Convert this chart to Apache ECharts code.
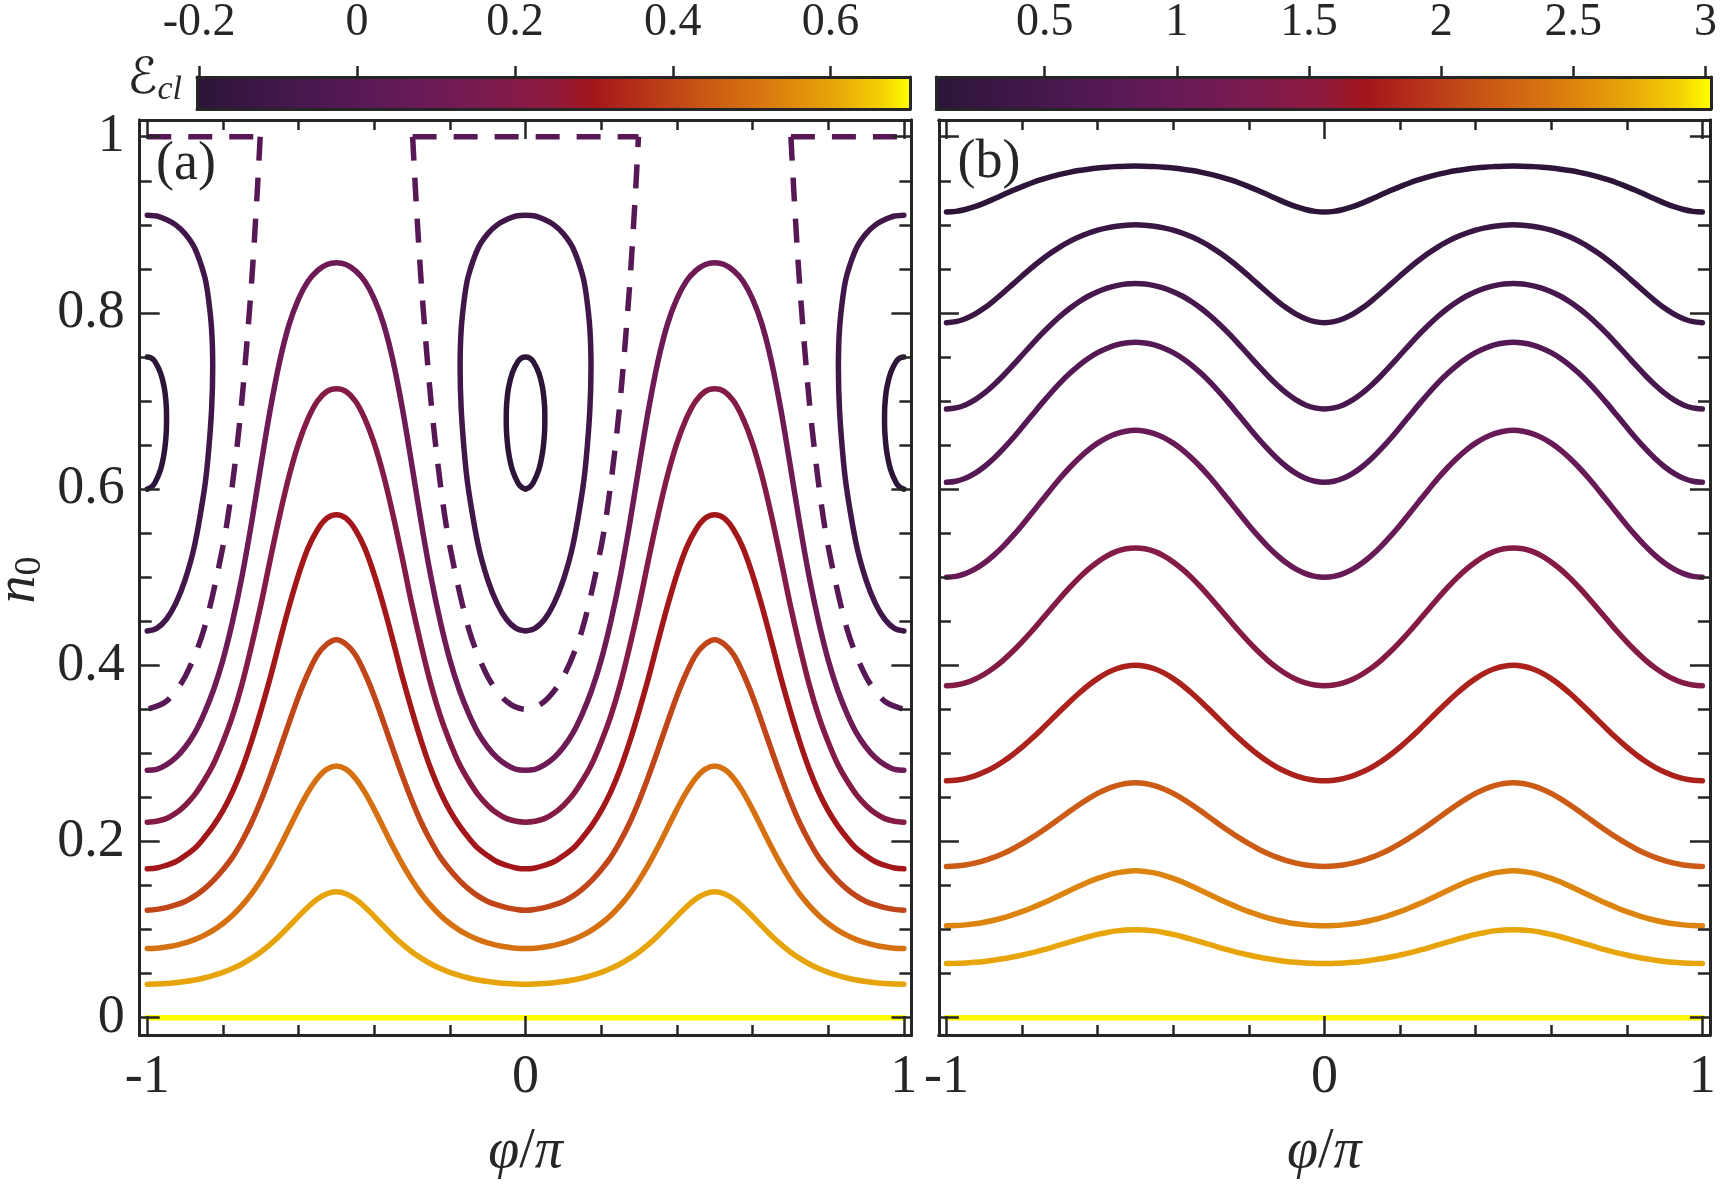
<!DOCTYPE html>
<html><head><meta charset="utf-8">
<script src="https://cdn.jsdelivr.net/npm/echarts@6/dist/echarts.min.js"></script>
<style>html,body{margin:0;padding:0;background:#fff}#c{width:1720px;height:1186px}</style>
</head><body><div id="c"></div>
<script>
// ---------------- data ----------------
// common phi/pi sampling grid for the open contour lines
const phiGrid = [-1,-0.975,-0.95,-0.925,-0.9,-0.875,-0.85,-0.825,-0.8,-0.775,-0.75,-0.725,-0.7,-0.675,-0.65,-0.625,-0.6,-0.575,-0.55,-0.525,-0.5,-0.475,-0.45,-0.425,-0.4,-0.375,-0.35,-0.325,-0.3,-0.275,-0.25,-0.225,-0.2,-0.175,-0.15,-0.125,-0.1,-0.075,-0.05,-0.025,0,0.025,0.05,0.075,0.1,0.125,0.15,0.175,0.2,0.225,0.25,0.275,0.3,0.325,0.35,0.375,0.4,0.425,0.45,0.475,0.5,0.525,0.55,0.575,0.6,0.625,0.65,0.675,0.7,0.725,0.75,0.775,0.8,0.825,0.85,0.875,0.9,0.925,0.95,0.975,1];

// panel (a): contour levels and n0 values along phiGrid
const levelsA = [0.7, 0.6, 0.5, 0.4, 0.3, 0.2, 0.1, 0.0, -0.1, -0.2];
const a_E06 = [0.0381,0.0383,0.0388,0.0398,0.0411,0.0429,0.0451,0.0480,0.0515,0.0558,0.0610,0.0673,0.0747,0.0833,0.0931,0.1039,0.1151,0.1257,0.1347,0.1407,0.1429, 0.1407,0.1347,0.1257,0.1151,0.1039,0.0931,0.0833,0.0747,0.0673,0.0610,0.0558,0.0515,0.0480,0.0451,0.0429,0.0411,0.0398,0.0388,0.0383,0.0381, 0.0383,0.0388,0.0398,0.0411,0.0429,0.0451,0.0480,0.0515,0.0558,0.0610,0.0673,0.0747,0.0833,0.0931,0.1039,0.1151,0.1257,0.1347,0.1407,0.1429, 0.1407,0.1347,0.1257,0.1151,0.1039,0.0931,0.0833,0.0747,0.0673,0.0610,0.0558,0.0515,0.0480,0.0451,0.0429,0.0411,0.0398,0.0388,0.0383,0.0381];
const a_E05 = [0.0787,0.0790,0.0802,0.0821,0.0849,0.0887,0.0935,0.0995,0.1070,0.1161,0.1272,0.1403,0.1559,0.1737,0.1937,0.2151,0.2365,0.2561,0.2719,0.2822,0.2857, 0.2822,0.2719,0.2561,0.2365,0.2151,0.1937,0.1737,0.1559,0.1403,0.1272,0.1161,0.1070,0.0995,0.0935,0.0887,0.0849,0.0821,0.0802,0.0790,0.0787, 0.0790,0.0802,0.0821,0.0849,0.0887,0.0935,0.0995,0.1070,0.1161,0.1272,0.1403,0.1559,0.1737,0.1937,0.2151,0.2365,0.2561,0.2719,0.2822,0.2857, 0.2822,0.2719,0.2561,0.2365,0.2151,0.1937,0.1737,0.1559,0.1403,0.1272,0.1161,0.1070,0.0995,0.0935,0.0887,0.0849,0.0821,0.0802,0.0790,0.0787];
const a_E04 = [0.122,0.123,0.125,0.128,0.132,0.138,0.146,0.156,0.168,0.182,0.200,0.221,0.246,0.274,0.304,0.335,0.365,0.391,0.412,0.424,0.429, 0.424,0.412,0.391,0.365,0.335,0.304,0.274,0.246,0.221,0.200,0.182,0.168,0.156,0.146,0.138,0.132,0.128,0.125,0.123,0.122, 0.123,0.125,0.128,0.132,0.138,0.146,0.156,0.168,0.182,0.200,0.221,0.246,0.274,0.304,0.335,0.365,0.391,0.412,0.424,0.429, 0.424,0.412,0.391,0.365,0.335,0.304,0.274,0.246,0.221,0.200,0.182,0.168,0.156,0.146,0.138,0.132,0.128,0.125,0.123,0.122];
const a_E03 = [0.169,0.170,0.173,0.177,0.184,0.192,0.204,0.218,0.235,0.256,0.282,0.313,0.348,0.386,0.427,0.467,0.503,0.533,0.554,0.567,0.571, 0.567,0.554,0.533,0.503,0.467,0.427,0.386,0.348,0.313,0.282,0.256,0.235,0.218,0.204,0.192,0.184,0.177,0.173,0.170,0.169, 0.170,0.173,0.177,0.184,0.192,0.204,0.218,0.235,0.256,0.282,0.313,0.348,0.386,0.427,0.467,0.503,0.533,0.554,0.567,0.571, 0.567,0.554,0.533,0.503,0.467,0.427,0.386,0.348,0.313,0.282,0.256,0.235,0.218,0.204,0.192,0.184,0.177,0.173,0.170,0.169];
const a_E02 = [0.222,0.223,0.226,0.232,0.241,0.253,0.269,0.288,0.313,0.342,0.378,0.421,0.468,0.520,0.570,0.615,0.652,0.680,0.700,0.711,0.714, 0.711,0.700,0.680,0.652,0.615,0.570,0.520,0.468,0.421,0.378,0.342,0.313,0.288,0.269,0.253,0.241,0.232,0.226,0.223,0.222, 0.223,0.226,0.232,0.241,0.253,0.269,0.288,0.313,0.342,0.378,0.421,0.468,0.520,0.570,0.615,0.652,0.680,0.700,0.711,0.714, 0.711,0.700,0.680,0.652,0.615,0.570,0.520,0.468,0.421,0.378,0.342,0.313,0.288,0.269,0.253,0.241,0.232,0.226,0.223,0.222];
const a_E01 = [0.281,0.282,0.287,0.295,0.307,0.323,0.345,0.372,0.406,0.449,0.500,0.560,0.626,0.690,0.745,0.787,0.816,0.836,0.848,0.855,0.857, 0.855,0.848,0.836,0.816,0.787,0.745,0.690,0.626,0.560,0.500,0.449,0.406,0.372,0.345,0.323,0.307,0.295,0.287,0.282,0.281, 0.282,0.287,0.295,0.307,0.323,0.345,0.372,0.406,0.449,0.500,0.560,0.626,0.690,0.745,0.787,0.816,0.836,0.848,0.855,0.857, 0.855,0.848,0.836,0.816,0.787,0.745,0.690,0.626,0.560,0.500,0.449,0.406,0.372,0.345,0.323,0.307,0.295,0.287,0.282,0.281];
const a_E07 = [[-1,0],[1,0]];
// separatrix (dashed, level 0)
const a_E00_mid = [[-0.2985,1],[-0.29,0.932],[-0.275,0.830],[-0.25,0.700],[-0.225,0.605],[-0.2,0.535],[-0.15,0.441],[-0.1,0.387],[-0.05,0.359],[0,0.350],[0.05,0.359],[0.1,0.387],[0.15,0.441],[0.2,0.535],[0.225,0.605],[0.25,0.700],[0.275,0.830],[0.29,0.932],[0.2985,1]];
const a_E00_left = [[-0.7015,1],[-0.71,0.932],[-0.725,0.830],[-0.75,0.700],[-0.775,0.605],[-0.8,0.535],[-0.85,0.441],[-0.9,0.387],[-0.95,0.359],[-1,0.350]];
const a_E00_right = [[0.7015,1],[0.71,0.932],[0.725,0.830],[0.75,0.700],[0.775,0.605],[0.8,0.535],[0.85,0.441],[0.9,0.387],[0.95,0.359],[1,0.350]];
const a_E00_topL = [[-1,1],[-0.7015,1]];
const a_E00_topM = [[-0.2985,1],[0.2985,1]];
const a_E00_topR = [[0.7015,1],[1,1]];
// closed orbits, level -0.1
const a_Em01_mid = [[0,0.439],[0.025,0.442],[0.05,0.452],[0.075,0.470],[0.1,0.497],[0.125,0.536],[0.15,0.597],[0.16,0.633],[0.17,0.690],[0.173,0.739],[0.17,0.782],[0.16,0.822],[0.15,0.844],[0.125,0.874],[0.1,0.890],[0.075,0.900],[0.05,0.906],[0.025,0.910],[0,0.911],[-0.025,0.910],[-0.05,0.906],[-0.075,0.900],[-0.1,0.890],[-0.125,0.874],[-0.15,0.844],[-0.16,0.822],[-0.17,0.782],[-0.173,0.739],[-0.17,0.690],[-0.16,0.633],[-0.15,0.597],[-0.125,0.536],[-0.1,0.497],[-0.075,0.470],[-0.05,0.452],[-0.025,0.442],[0,0.439]];
const a_Em01_left = [[-1,0.439],[-0.975,0.442],[-0.95,0.452],[-0.925,0.470],[-0.9,0.497],[-0.875,0.536],[-0.85,0.597],[-0.84,0.633],[-0.83,0.690],[-0.827,0.739],[-0.83,0.782],[-0.84,0.822],[-0.85,0.844],[-0.875,0.874],[-0.9,0.890],[-0.925,0.900],[-0.95,0.906],[-0.975,0.910],[-1,0.911]];
const a_Em01_right = [[1,0.439],[0.975,0.442],[0.95,0.452],[0.925,0.470],[0.9,0.497],[0.875,0.536],[0.85,0.597],[0.84,0.633],[0.83,0.690],[0.827,0.739],[0.83,0.782],[0.84,0.822],[0.85,0.844],[0.875,0.874],[0.9,0.890],[0.925,0.900],[0.95,0.906],[0.975,0.910],[1,0.911]];
// closed orbits, level -0.2
const a_Em02_mid = [[0,0.600],[0.01,0.602],[0.02,0.607],[0.035,0.622],[0.045,0.642],[0.05,0.663],[0.051,0.680],[0.05,0.696],[0.045,0.715],[0.035,0.732],[0.02,0.745],[0.01,0.749],[0,0.750],[-0.01,0.749],[-0.02,0.745],[-0.035,0.732],[-0.045,0.715],[-0.05,0.696],[-0.051,0.680],[-0.05,0.663],[-0.045,0.642],[-0.035,0.622],[-0.02,0.607],[-0.01,0.602],[0,0.600]];
const a_Em02_left = [[-1,0.600],[-0.99,0.602],[-0.98,0.607],[-0.965,0.622],[-0.955,0.642],[-0.95,0.663],[-0.949,0.680],[-0.95,0.696],[-0.955,0.715],[-0.965,0.732],[-0.98,0.745],[-0.99,0.749],[-1,0.750]];
const a_Em02_right = [[1,0.600],[0.99,0.602],[0.98,0.607],[0.965,0.622],[0.955,0.642],[0.95,0.663],[0.949,0.680],[0.95,0.696],[0.955,0.715],[0.965,0.732],[0.98,0.745],[0.99,0.749],[1,0.750]];

// panel (b): contour levels and n0 values along phiGrid
const levelsB = [3.0, 2.7, 2.5, 2.2, 1.8, 1.4, 1.0, 0.7, 0.5, 0.3, 0.1];
const b_E30 = [[-1,0],[1,0]];
const b_E27 = [0.0615,0.0617,0.0621,0.0629,0.0639,0.0653,0.0669,0.0689,0.0712,0.0737,0.0765,0.0794,0.0826,0.0857,0.0889,0.0919,0.0946,0.0968,0.0986,0.0996,0.1000, 0.0996,0.0986,0.0968,0.0946,0.0919,0.0889,0.0857,0.0826,0.0794,0.0765,0.0737,0.0712,0.0689,0.0669,0.0653,0.0639,0.0629,0.0621,0.0617,0.0615, 0.0617,0.0621,0.0629,0.0639,0.0653,0.0669,0.0689,0.0712,0.0737,0.0765,0.0794,0.0826,0.0857,0.0889,0.0919,0.0946,0.0968,0.0986,0.0996,0.1000, 0.0996,0.0986,0.0968,0.0946,0.0919,0.0889,0.0857,0.0826,0.0794,0.0765,0.0737,0.0712,0.0689,0.0669,0.0653,0.0639,0.0629,0.0621,0.0617,0.0615];
const b_E25 = [0.1044,0.1046,0.1054,0.1066,0.1084,0.1107,0.1134,0.1167,0.1204,0.1246,0.1292,0.1340,0.1391,0.1442,0.1492,0.1540,0.1582,0.1617,0.1644,0.1661,0.1667, 0.1661,0.1644,0.1617,0.1582,0.1540,0.1492,0.1442,0.1391,0.1340,0.1292,0.1246,0.1204,0.1167,0.1134,0.1107,0.1084,0.1066,0.1054,0.1046,0.1044, 0.1046,0.1054,0.1066,0.1084,0.1107,0.1134,0.1167,0.1204,0.1246,0.1292,0.1340,0.1391,0.1442,0.1492,0.1540,0.1582,0.1617,0.1644,0.1661,0.1667, 0.1661,0.1644,0.1617,0.1582,0.1540,0.1492,0.1442,0.1391,0.1340,0.1292,0.1246,0.1204,0.1167,0.1134,0.1107,0.1084,0.1066,0.1054,0.1046,0.1044];
const b_E22 = [0.1718,0.1722,0.1734,0.1755,0.1783,0.1820,0.1864,0.1916,0.1975,0.2041,0.2112,0.2186,0.2263,0.2340,0.2415,0.2484,0.2546,0.2597,0.2635,0.2659,0.2667, 0.2659,0.2635,0.2597,0.2546,0.2484,0.2415,0.2340,0.2263,0.2186,0.2112,0.2041,0.1975,0.1916,0.1864,0.1820,0.1783,0.1755,0.1734,0.1722,0.1718, 0.1722,0.1734,0.1755,0.1783,0.1820,0.1864,0.1916,0.1975,0.2041,0.2112,0.2186,0.2263,0.2340,0.2415,0.2484,0.2546,0.2597,0.2635,0.2659,0.2667, 0.2659,0.2635,0.2597,0.2546,0.2484,0.2415,0.2340,0.2263,0.2186,0.2112,0.2041,0.1975,0.1916,0.1864,0.1820,0.1783,0.1755,0.1734,0.1722,0.1718];
const b_E18 = [0.2689,0.2696,0.2714,0.2745,0.2788,0.2842,0.2908,0.2985,0.3071,0.3166,0.3267,0.3372,0.3478,0.3582,0.3680,0.3771,0.3849,0.3914,0.3961,0.3990,0.4000, 0.3990,0.3961,0.3914,0.3849,0.3771,0.3680,0.3582,0.3478,0.3372,0.3267,0.3166,0.3071,0.2985,0.2908,0.2842,0.2788,0.2745,0.2714,0.2696,0.2689, 0.2696,0.2714,0.2745,0.2788,0.2842,0.2908,0.2985,0.3071,0.3166,0.3267,0.3372,0.3478,0.3582,0.3680,0.3771,0.3849,0.3914,0.3961,0.3990,0.4000, 0.3990,0.3961,0.3914,0.3849,0.3771,0.3680,0.3582,0.3478,0.3372,0.3267,0.3166,0.3071,0.2985,0.2908,0.2842,0.2788,0.2745,0.2714,0.2696,0.2689];
const b_E14 = [0.3768,0.3776,0.3801,0.3842,0.3899,0.3971,0.4057,0.4156,0.4266,0.4384,0.4508,0.4634,0.4759,0.4879,0.4990,0.5089,0.5174,0.5243,0.5293,0.5323,0.5333, 0.5323,0.5293,0.5243,0.5174,0.5089,0.4990,0.4879,0.4759,0.4634,0.4508,0.4384,0.4266,0.4156,0.4057,0.3971,0.3899,0.3842,0.3801,0.3776,0.3768, 0.3776,0.3801,0.3842,0.3899,0.3971,0.4057,0.4156,0.4266,0.4384,0.4508,0.4634,0.4759,0.4879,0.4990,0.5089,0.5174,0.5243,0.5293,0.5323,0.5333, 0.5323,0.5293,0.5243,0.5174,0.5089,0.4990,0.4879,0.4759,0.4634,0.4508,0.4384,0.4266,0.4156,0.4057,0.3971,0.3899,0.3842,0.3801,0.3776,0.3768];
const b_E10 = [0.5000,0.5010,0.5041,0.5091,0.5161,0.5248,0.5350,0.5466,0.5591,0.5723,0.5858,0.5991,0.6120,0.6240,0.6348,0.6443,0.6522,0.6585,0.6630,0.6658,0.6667, 0.6658,0.6630,0.6585,0.6522,0.6443,0.6348,0.6240,0.6120,0.5991,0.5858,0.5723,0.5591,0.5466,0.5350,0.5248,0.5161,0.5091,0.5041,0.5010,0.5000, 0.5010,0.5041,0.5091,0.5161,0.5248,0.5350,0.5466,0.5591,0.5723,0.5858,0.5991,0.6120,0.6240,0.6348,0.6443,0.6522,0.6585,0.6630,0.6658,0.6667, 0.6658,0.6630,0.6585,0.6522,0.6443,0.6348,0.6240,0.6120,0.5991,0.5858,0.5723,0.5591,0.5466,0.5350,0.5248,0.5161,0.5091,0.5041,0.5010,0.5000];
const b_E07 = [0.6077,0.6089,0.6123,0.6178,0.6254,0.6347,0.6456,0.6575,0.6702,0.6832,0.6962,0.7086,0.7203,0.7309,0.7403,0.7483,0.7549,0.7600,0.7637,0.7659,0.7667, 0.7659,0.7637,0.7600,0.7549,0.7483,0.7403,0.7309,0.7203,0.7086,0.6962,0.6832,0.6702,0.6575,0.6456,0.6347,0.6254,0.6178,0.6123,0.6089,0.6077, 0.6089,0.6123,0.6178,0.6254,0.6347,0.6456,0.6575,0.6702,0.6832,0.6962,0.7086,0.7203,0.7309,0.7403,0.7483,0.7549,0.7600,0.7637,0.7659,0.7667, 0.7659,0.7637,0.7600,0.7549,0.7483,0.7403,0.7309,0.7203,0.7086,0.6962,0.6832,0.6702,0.6575,0.6456,0.6347,0.6254,0.6178,0.6123,0.6089,0.6077];
const b_E05 = [0.6910,0.6922,0.6956,0.7013,0.7089,0.7182,0.7287,0.7401,0.7520,0.7638,0.7753,0.7860,0.7959,0.8047,0.8124,0.8189,0.8241,0.8282,0.8310,0.8328,0.8333, 0.8328,0.8310,0.8282,0.8241,0.8189,0.8124,0.8047,0.7959,0.7860,0.7753,0.7638,0.7520,0.7401,0.7287,0.7182,0.7089,0.7013,0.6956,0.6922,0.6910, 0.6922,0.6956,0.7013,0.7089,0.7182,0.7287,0.7401,0.7520,0.7638,0.7753,0.7860,0.7959,0.8047,0.8124,0.8189,0.8241,0.8282,0.8310,0.8328,0.8333, 0.8328,0.8310,0.8282,0.8241,0.8189,0.8124,0.8047,0.7959,0.7860,0.7753,0.7638,0.7520,0.7401,0.7287,0.7182,0.7089,0.7013,0.6956,0.6922,0.6910];
const b_E03 = [0.7890,0.7901,0.7934,0.7986,0.8055,0.8138,0.8229,0.8324,0.8419,0.8512,0.8598,0.8677,0.8748,0.8809,0.8861,0.8905,0.8940,0.8966,0.8985,0.8996,0.9000, 0.8996,0.8985,0.8966,0.8940,0.8905,0.8861,0.8809,0.8748,0.8677,0.8598,0.8512,0.8419,0.8324,0.8229,0.8138,0.8055,0.7986,0.7934,0.7901,0.7890, 0.7901,0.7934,0.7986,0.8055,0.8138,0.8229,0.8324,0.8419,0.8512,0.8598,0.8677,0.8748,0.8809,0.8861,0.8905,0.8940,0.8966,0.8985,0.8996,0.9000, 0.8996,0.8985,0.8966,0.8940,0.8905,0.8861,0.8809,0.8748,0.8677,0.8598,0.8512,0.8419,0.8324,0.8229,0.8138,0.8055,0.7986,0.7934,0.7901,0.7890];
const b_E01 = [0.9146,0.9153,0.9174,0.9206,0.9247,0.9293,0.9341,0.9389,0.9433,0.9475,0.9512,0.9544,0.9572,0.9596,0.9616,0.9632,0.9645,0.9655,0.9661,0.9665,0.9667, 0.9665,0.9661,0.9655,0.9645,0.9632,0.9616,0.9596,0.9572,0.9544,0.9512,0.9475,0.9433,0.9389,0.9341,0.9293,0.9247,0.9206,0.9174,0.9153,0.9146, 0.9153,0.9174,0.9206,0.9247,0.9293,0.9341,0.9389,0.9433,0.9475,0.9512,0.9544,0.9572,0.9596,0.9616,0.9632,0.9645,0.9655,0.9661,0.9665,0.9667, 0.9665,0.9661,0.9655,0.9645,0.9632,0.9616,0.9596,0.9572,0.9544,0.9512,0.9475,0.9433,0.9389,0.9341,0.9293,0.9247,0.9206,0.9174,0.9153,0.9146];

// axes / ticks / colorbars
const xMajor = [-1, 0, 1];
const xMinor = [-0.8,-0.6,-0.4,-0.2,0.2,0.4,0.6,0.8];
const yMajor = [0, 0.2, 0.4, 0.6, 0.8, 1];
const yMinor = [0.05,0.1,0.15,0.25,0.3,0.35,0.45,0.5,0.55,0.65,0.7,0.75,0.85,0.9,0.95];
const xRange = [-1.02, 1.02];
const yRange = [-0.0196, 1.019];
const cbRangeA = [-0.2028, 0.7006];
const cbTicksA = [-0.2, 0, 0.2, 0.4, 0.6];
const cbRangeB = [0.09, 3.02];
const cbTicksB = [0.5, 1, 1.5, 2, 2.5, 3];

// ---------------- style ----------------
const FRAME = '#262626';
const FONT = '"Liberation Serif", "DejaVu Serif", serif';
const CMAP = [[0,'#2b1537'],[0.1,'#3e1748'],[0.2,'#521955'],[0.3,'#661a57'],[0.4,'#7a1b50'],[0.5,'#8f1a3d'],[0.555,'#a3161b'],[0.62,'#b5301a'],[0.7,'#c75316'],[0.8,'#d9790f'],[0.9,'#e9a909'],[0.96,'#f4d104'],[1,'#ffff00']];
function h2r(h){return [1,3,5].map(i=>parseInt(h.substr(i,2),16));}
function cmap(t){
  t = Math.max(0, Math.min(1, t));
  for (let i = 1; i < CMAP.length; i++) {
    if (t <= CMAP[i][0]) {
      const t0 = CMAP[i-1][0], t1 = CMAP[i][0];
      const f = (t - t0) / (t1 - t0);
      const a = h2r(CMAP[i-1][1]), b = h2r(CMAP[i][1]);
      const c = a.map((v,k)=>Math.round(v + (b[k]-v)*f));
      return 'rgb(' + c.join(',') + ')';
    }
  }
  return CMAP[CMAP.length-1][1];
}
const colA = E => cmap((E - cbRangeA[0]) / (cbRangeA[1] - cbRangeA[0]));
const colB = E => cmap((E - cbRangeB[0]) / (cbRangeB[1] - cbRangeB[0]));

function onGrid(ys){ return phiGrid.map((x,i)=>[x, ys[i]]); }

function line(axis, data, color, opt) {
  opt = opt || {};
  return {
    type: 'line', xAxisIndex: axis, yAxisIndex: axis, data: data,
    showSymbol: false, symbol: 'none', silent: true, animation: false,
    smooth: opt.smooth === undefined ? 0.35 : opt.smooth,
    lineStyle: { color: color, width: 5.5, type: opt.dash ? [24, 17] : 'solid', cap: opt.dash ? 'butt' : 'round', join: 'round' },
    z: 3
  };
}

function panelAxes(g, withYLabels) {
  const baseLine = { show: true, onZero: false, lineStyle: { color: FRAME, width: 3 } };
  const lab = { color: FRAME, fontFamily: FONT, fontSize: 54 };
  const tk = (vals, len) => ({ show: true, inside: true, length: len, customValues: vals, lineStyle: { color: FRAME, width: 2.5 } });
  const common = { type: 'value', gridIndex: g, splitLine: { show: false }, z: 10, axisLine: baseLine, axisPointer: { show: false } };
  const xs = [
    Object.assign({}, common, { position: 'bottom', min: xRange[0], max: xRange[1], axisTick: tk(xMajor, 19), axisLabel: Object.assign({ show: true, customValues: xMajor, margin: 16 }, lab) }),
    Object.assign({}, common, { position: 'bottom', min: xRange[0], max: xRange[1], axisTick: tk(xMinor, 10), axisLabel: { show: false } }),
    Object.assign({}, common, { position: 'top', min: xRange[0], max: xRange[1], axisTick: tk(xMajor, 19), axisLabel: { show: false } }),
    Object.assign({}, common, { position: 'top', min: xRange[0], max: xRange[1], axisTick: tk(xMinor, 10), axisLabel: { show: false } })
  ];
  const ys = [
    Object.assign({}, common, { position: 'left', min: yRange[0], max: yRange[1], axisTick: tk(yMajor, 20), axisLabel: withYLabels ? Object.assign({ show: true, customValues: yMajor, margin: 15 }, lab) : { show: false } }),
    Object.assign({}, common, { position: 'left', min: yRange[0], max: yRange[1], axisTick: tk(yMinor, 12), axisLabel: { show: false } }),
    Object.assign({}, common, { position: 'right', min: yRange[0], max: yRange[1], axisTick: tk(yMajor, 20), axisLabel: { show: false } }),
    Object.assign({}, common, { position: 'right', min: yRange[0], max: yRange[1], axisTick: tk(yMinor, 12), axisLabel: { show: false } })
  ];
  return { xs, ys };
}

function cbAxes(g, range, ticks) {
  const baseLine = { show: true, onZero: false, lineStyle: { color: FRAME, width: 3 } };
  const common = { type: 'value', gridIndex: g, splitLine: { show: false }, z: 10, axisLine: baseLine, axisPointer: { show: false } };
  const xs = [
    Object.assign({}, common, { position: 'top', min: range[0], max: range[1],
      axisTick: { show: true, inside: false, length: 11, customValues: ticks, lineStyle: { color: FRAME, width: 2.5 } },
      axisLabel: { show: true, customValues: ticks, margin: 31, color: FRAME, fontFamily: FONT, fontSize: 46 } }),
    Object.assign({}, common, { position: 'bottom', min: range[0], max: range[1], axisTick: { show: false }, axisLabel: { show: false } })
  ];
  const ys = [
    Object.assign({}, common, { position: 'left', min: 0, max: 1, axisTick: { show: false }, axisLabel: { show: false } }),
    Object.assign({}, common, { position: 'right', min: 0, max: 1, axisTick: { show: false }, axisLabel: { show: false } })
  ];
  return { xs, ys };
}

function cbSeries(axis, range) {
  return {
    type: 'custom', xAxisIndex: axis, yAxisIndex: axis, silent: true, animation: false, z: 2,
    data: [[range[0], range[1]]],
    renderItem: function (params, api) {
      const p0 = api.coord([api.value(0), 0]);
      const p1 = api.coord([api.value(1), 1]);
      return {
        type: 'rect',
        shape: { x: p0[0], y: p1[1], width: p1[0] - p0[0], height: p0[1] - p1[1] },
        style: { fill: new echarts.graphic.LinearGradient(0, 0, 1, 0, CMAP.map(s => ({ offset: s[0], color: s[1] }))) }
      };
    }
  };
}

const pA = panelAxes(0, true), pB = panelAxes(1, false);
const cA = cbAxes(2, cbRangeA, cbTicksA), cB = cbAxes(3, cbRangeB, cbTicksB);
// axis index layout: panel A 0-3, panel B 4-7, colorbar A 8-9, colorbar B 10-11
const xAxes = [].concat(pA.xs, pB.xs, cA.xs, cB.xs);
const yAxes = [].concat(pA.ys, pB.ys, cA.ys, cB.ys);

const series = [];
// panel (a)
series.push(line(0, a_E07, colA(0.7), { smooth: false }));
series.push(line(0, onGrid(a_E06), colA(0.6)));
series.push(line(0, onGrid(a_E05), colA(0.5)));
series.push(line(0, onGrid(a_E04), colA(0.4)));
series.push(line(0, onGrid(a_E03), colA(0.3)));
series.push(line(0, onGrid(a_E02), colA(0.2)));
series.push(line(0, onGrid(a_E01), colA(0.1)));
[a_E00_mid, a_E00_left, a_E00_right].forEach(d => series.push(line(0, d, colA(0.0), { dash: true, smooth: 0.3 })));
[a_E00_topL, a_E00_topM, a_E00_topR].forEach(d => series.push(line(0, d, colA(0.0), { dash: true, smooth: false })));
[a_Em01_mid, a_Em01_left, a_Em01_right].forEach(d => series.push(line(0, d, colA(-0.1), { smooth: 0.3 })));
[a_Em02_mid, a_Em02_left, a_Em02_right].forEach(d => series.push(line(0, d, colA(-0.2), { smooth: 0.3 })));
// panel (b)
series.push(line(4, b_E30, colB(3.0), { smooth: false }));
[[b_E27,2.7],[b_E25,2.5],[b_E22,2.2],[b_E18,1.8],[b_E14,1.4],[b_E10,1.0],[b_E07,0.7],[b_E05,0.5],[b_E03,0.3],[b_E01,0.1]]
  .forEach(p => series.push(line(4, onGrid(p[0]), colB(p[1]))));
// colorbars
series.push(cbSeries(8, cbRangeA));
series.push(cbSeries(10, cbRangeB));

const txt = (x, y, text, rich, extra) => Object.assign({
  type: 'text', x: x, y: y, silent: true, z: 20,
  style: { text: text, rich: rich, fill: FRAME, font: '54px ' + FONT, fontFamily: FONT, fontSize: 54,
    align: 'center', verticalAlign: 'middle', textAlign: 'center', textVerticalAlign: 'middle' }
}, extra || {});

const option = {
  animation: false,
  backgroundColor: '#ffffff',
  grid: [
    { left: 139.7, top: 120, width: 771.7, height: 915 },
    { left: 938.9, top: 120, width: 771, height: 915 },
    { left: 197, top: 73, width: 713, height: 36 },
    { left: 936.3, top: 73, width: 774.5, height: 36 }
  ],
  xAxis: xAxes,
  yAxis: yAxes,
  series: series,
  graphic: [
    txt(186, 165, '(a)'),
    txt(989, 163, '(b)'),
    txt(525.6, 1152, '{i|φ}{r|/}{i|π}', {
      i: { fontFamily: FONT, fontSize: 56, fontStyle: 'italic', fill: FRAME },
      r: { fontFamily: FONT, fontSize: 56, fill: FRAME } }),
    txt(1324.3, 1152, '{i|φ}{r|/}{i|π}', {
      i: { fontFamily: FONT, fontSize: 56, fontStyle: 'italic', fill: FRAME },
      r: { fontFamily: FONT, fontSize: 56, fill: FRAME } }),
    txt(19, 580, '{n|n}{s|0}', {
      n: { fontFamily: FONT, fontSize: 56, fontStyle: 'italic', lineHeight: 60, fill: FRAME },
      s: { fontFamily: FONT, fontSize: 38, lineHeight: 34, verticalAlign: 'bottom', fill: FRAME } }, { rotation: Math.PI / 2 }),
    (function(){ const t = txt(182, 80, '{e|ℰ}{s|cl}', {
      e: { fontFamily: '"DejaVu Serif", "DejaVu Sans", serif', fontSize: 50, lineHeight: 54, fill: FRAME },
      s: { fontFamily: FONT, fontSize: 34, fontStyle: 'italic', lineHeight: 24, verticalAlign: 'bottom', fill: FRAME } });
      t.style.align = 'right'; t.style.textAlign = 'right'; return t; })()
  ]
};

const chart = echarts.init(document.getElementById('c'), null, { renderer: 'canvas', width: 1720, height: 1186 });
chart.setOption(option);
</script>
</body></html>
